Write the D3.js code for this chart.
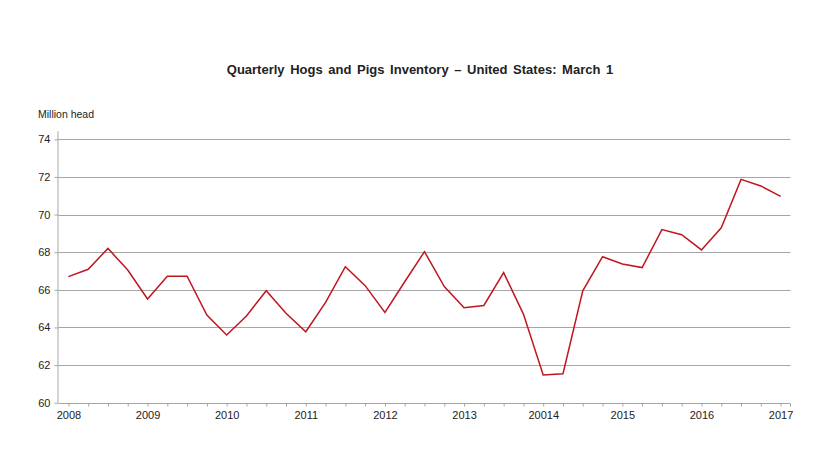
<!DOCTYPE html>
<html><head><meta charset="utf-8">
<script src="https://cdn.jsdelivr.net/npm/d3@7"></script>
<style>body{margin:0;background:#fff}svg{display:block}text{font-family:"Liberation Sans",Arial,sans-serif;fill:#222}</style>
</head><body><svg id="c" width="820" height="461"></svg>
<script>
const title = "Quarterly Hogs and Pigs Inventory \u2013 United States: March 1";
const unitLabel = "Million head";
const quarters = d3.range(37);
const inventory = [66.70,67.09,68.20,67.05, 65.51,66.72,66.72,64.66, 63.60,64.61,65.95,64.75,
  63.77,65.33,67.23,66.22, 64.80,66.43,68.03,66.17, 65.05,65.17,66.91,64.71,
  61.47,61.54,65.95,67.76, 67.37,67.18,69.20,68.93, 68.12,69.30,71.87,71.52, 70.97];
const yearLabels = ["2008","2009","2010","2011","2012","2013","20014","2015","2016","2017"];
const yTicks = [60,62,64,66,68,70,72,74];

const svg = d3.select("#c");
const L = 58.5, R = 790.5, T = 139.3, B = 402.7;
const x = d3.scaleLinear().domain([-0.5, 36.5]).range([L, R]);
const y = d3.scaleLinear().domain([60, 74]).range([B, T]);

svg.append("text").attr("x", 420).attr("y", 74).attr("text-anchor","middle")
  .style("font-size","13px").style("font-weight","bold").style("word-spacing","2px").text(title);
svg.append("text").attr("x", 38).attr("y", 118).style("font-size","10.5px").text(unitLabel);

// gridlines
svg.append("g").selectAll("line").data(yTicks.filter(d=>d>60)).join("line")
  .attr("x1", L).attr("x2", R).attr("y1", d=>Math.round(y(d))+0.5).attr("y2", d=>Math.round(y(d))+0.5)
  .attr("stroke","#a6a6a6").attr("stroke-width",1);

// y axis
const ya = svg.append("g").attr("transform",`translate(${L},0)`)
  .call(d3.axisLeft(y).tickValues(yTicks).tickSize(4).tickPadding(4).tickFormat(d3.format("d")));
ya.select(".domain").attr("stroke","#a6a6a6").attr("d",`M-0.5,${B}V${T-8}`);
ya.selectAll(".tick line").attr("stroke","#a6a6a6");
ya.selectAll("text").style("font-size","11px").style("font-family","Liberation Sans, Arial").attr("fill","#222");

// x axis
const xa = svg.append("g").attr("transform",`translate(0,${Math.round(B)+0.5})`)
  .call(d3.axisBottom(x).tickValues(quarters).tickSize(3).tickPadding(5)
    .tickFormat(i => i % 4 === 0 ? yearLabels[i/4] : ""));
xa.select(".domain").attr("stroke","#a6a6a6").attr("d",`M${L},0H${R}V3`);
xa.selectAll(".tick line").attr("stroke","#a6a6a6");
xa.selectAll("text").style("font-size","11px").style("font-family","Liberation Sans, Arial").attr("fill","#222");

// line
svg.append("path").datum(inventory)
  .attr("fill","none").attr("stroke","#c0161f").attr("stroke-width",1.5).attr("stroke-linejoin","miter")
  .attr("d", d3.line().x((d,i)=>x(quarters[i])).y(d=>y(d)));
</script></body></html>
